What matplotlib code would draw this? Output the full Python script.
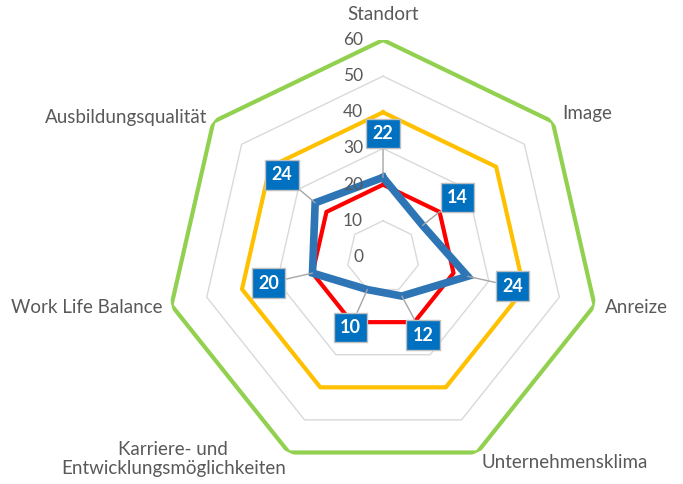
import numpy as np
import matplotlib
matplotlib.use("Agg")
import matplotlib.pyplot as plt

categories = ["Standort", "Image", "Anreize", "Unternehmensklima",
              "Karriere- und\nEntwicklungsmöglichkeiten", "Work Life Balance",
              "Ausbildungsqualität"]
series_green = [60, 60, 60, 60, 60, 60, 60]
series_orange = [40, 40, 40, 40, 40, 40, 40]
series_red = [20, 20, 20, 20, 20, 20, 20]
series_blue = [22, 14, 24, 12, 10, 20, 24]
ring_values = [10, 20, 30, 40, 50, 60]
tick_labels = ["0", "10", "20", "30", "40", "50", "60"]

plt.rcParams['font.family'] = ['Lato', 'DejaVu Sans']

fig = plt.figure(figsize=(6.83, 4.84), dpi=100)
ax = fig.add_axes([0.2431, 0.0207, 0.6354, 0.8967], projection='polar')
ax.set_theta_zero_location('N')
ax.set_theta_direction(-1)
ax.set_ylim(0, 60)
ax.grid(False)
ax.set_xticks([])
ax.set_yticks([])
ax.spines['polar'].set_visible(False)
ax.patch.set_alpha(0)

n = len(categories)
theta = np.arange(n) * 2 * np.pi / n
theta_c = np.append(theta, theta[0])

def closed(v):
    return np.append(np.array(v, dtype=float), v[0])

for rv in ring_values[:-1]:
    ax.plot(theta_c, closed([rv] * n), color='#d9d9d9', lw=1, zorder=1)

ax.plot(theta_c, closed(series_green), color='#92d050', lw=3, zorder=3)
ax.plot(theta_c, closed(series_orange), color='#ffc000', lw=3, zorder=3)
ax.plot(theta_c, closed(series_red), color='#ff0000', lw=3, zorder=3)
ax.plot(theta_c, closed(series_blue), color='#2e75b6', lw=5.5, zorder=4,
        solid_joinstyle='miter')

# tick labels along the top axis
for i, t in enumerate(tick_labels):
    ax.annotate(t, xy=(0, float(t)), xytext=(-20, 0), textcoords='offset pixels',
                ha='right', va='center', fontsize=12.5, color='#595959', zorder=5)

# category labels
label_r = [67, 63.5, 63, 63, 62, 62.5, 62]
has = ['center', 'left', 'left', 'left', 'right', 'right', 'right']
for i, c in enumerate(categories):
    ax.text(theta[i], label_r[i], c, ha=has[i], va='center', fontsize=13.5,
            color='#595959', multialignment='center', linespacing=1.15)

# data labels
offsets = [(0, 44), (35, 28), (45, -10), (21, -39), (-17, -38), (-44, -10), (-33, 28)]
for i, v in enumerate(series_blue):
    ax.annotate(str(v), xy=(theta[i], v), xytext=offsets[i], textcoords='offset pixels',
                ha='center', va='center', fontsize=13, fontweight='bold', color='white',
                bbox=dict(boxstyle='square,pad=0.35', fc='#0070c0', ec='#bfbfbf', lw=1),
                arrowprops=dict(arrowstyle='-', color='#a6a6a6', lw=1,
                                shrinkA=0, shrinkB=0),
                zorder=6)

fig.savefig('out.png', dpi=100)
